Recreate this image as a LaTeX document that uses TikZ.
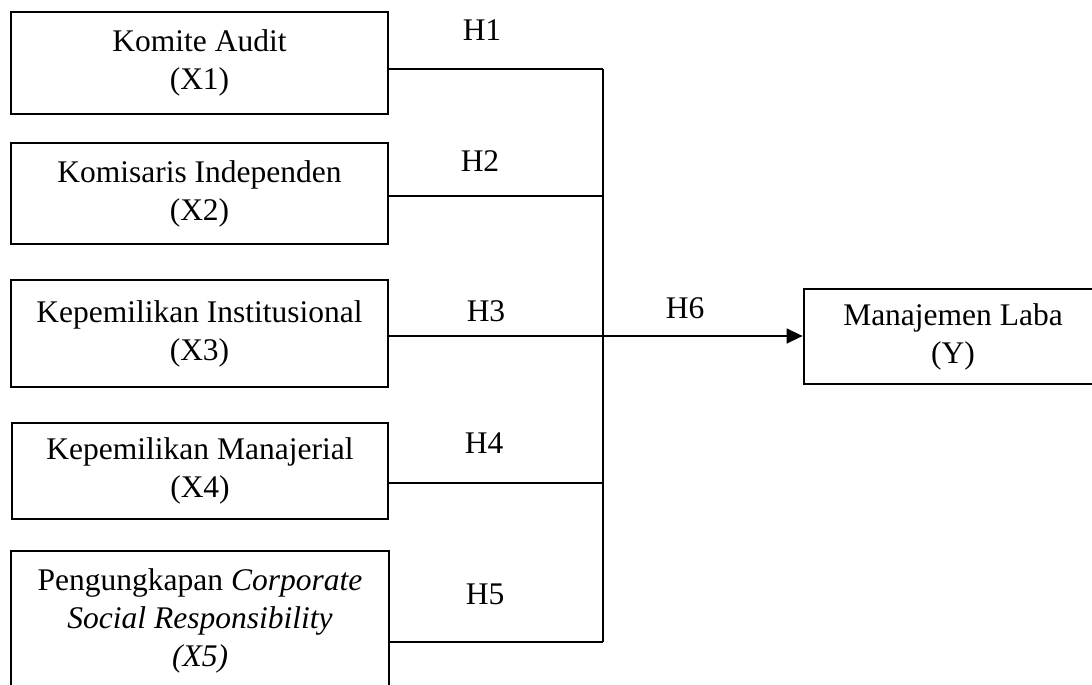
\documentclass[tikz,border=0pt]{standalone}
\usepackage{fontspec}
\setmainfont{Liberation Serif}
\usetikzlibrary{arrows.meta}

\begin{document}
\begin{tikzpicture}[x=1pt,y=-1pt,
  varbox/.style={draw,line width=2.8pt,align=center,inner sep=0pt,
    font=\fontsize{31.5}{38}\selectfont},
  hlabel/.style={font=\fontsize{31.5}{36}\selectfont},
  link/.style={line width=1.4pt}]
\useasboundingbox (0,0) rectangle (1092,685);

\node[varbox,minimum width=377pt,minimum height=102pt] (x1) at (199.5,63) {Komite Audit\\(X1)};
\node[varbox,minimum width=377pt,minimum height=101pt] (x2) at (199.5,193.5) {Komisaris Independen\\(X2)};
\node[varbox,minimum width=377pt,minimum height=107pt] (x3) at (199.5,333.5) {Kepemilikan Institusional\\(X3)};
\node[varbox,minimum width=376pt,minimum height=96pt] (x4) at (200,471) {Kepemilikan Manajerial\\(X4)};
\node[varbox,minimum width=378pt,minimum height=140pt] (x5) at (200,621) {Pengungkapan \textit{Corporate}\\\textit{Social Responsibility}\\\textit{(X5)}};
\node[varbox,minimum width=298pt,minimum height=95pt] (y) at (953,336.5) {Manajemen Laba\\(Y)};

\coordinate (j1) at (603,69);
\coordinate (j2) at (603,196);
\coordinate (j3) at (603,336);
\coordinate (j4) at (603,483);
\coordinate (j5) at (603,642);

\draw[link] (x1.east |- j1) -- (j1);
\draw[link] (x2.east |- j2) -- (j2);
\draw[link] (x3.east |- j3) -- (j3);
\draw[link] (x4.east |- j4) -- (j4);
\draw[link] (x5.east |- j5) -- (j5);
\draw[link] (j1) -- (j5);
\draw[link,-{Triangle[length=16pt,width=15pt]}] (j3) -- (y.west |- j3);

\node[hlabel] (h1) at (482,30) {H1};
\node[hlabel] (h2) at (480,161) {H2};
\node[hlabel] (h3) at (486,311) {H3};
\node[hlabel] (h4) at (484,443) {H4};
\node[hlabel] (h5) at (485,594) {H5};
\node[hlabel] (h6) at (685,308) {H6};
\end{tikzpicture}
\end{document}
